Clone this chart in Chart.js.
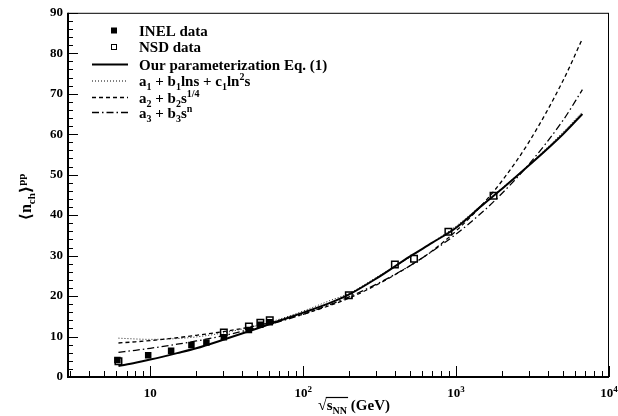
<!DOCTYPE html>
<html>
<head>
<meta charset="utf-8">
<script src="https://cdn.jsdelivr.net/npm/chart.js@4.4.1/dist/chart.umd.min.js"></script>
<style>
  html, body { margin: 0; padding: 0; background: #fff; }
  #wrap { width: 618px; height: 416px; }
</style>
</head>
<body>
<div id="wrap"><canvas id="chart" width="618" height="416"></canvas></div>
<script>
'use strict';

// measured charged multiplicities in pp
var inelEnergy = [6.1, 9.7, 13.7, 18.6, 23.3, 30.3, 44.2, 52.5, 60.5];
var inelMult = [4.2, 5.4, 6.5, 7.9, 8.5, 9.8, 11.6, 12.9, 13.5];
var nsdEnergy = [6.2, 30.3, 44.2, 52.5, 60.5, 199, 398, 531, 891, 1758];
var nsdMult = [3.9, 11.0, 12.5, 13.4, 14.0, 20.2, 27.8, 29.2, 35.9, 44.8];

// fitted curves, sampled along sqrt(s)
var curveEnergy = [6.2, 8, 10, 15, 20, 30, 50, 70, 100, 150, 200, 300, 500, 700, 1000, 1500, 2000, 3000, 5000, 6700];
var fitOurs = [2.7, 3.5, 4.3, 5.9, 7.1, 9.2, 12.0, 13.9, 15.9, 18.3, 20.4, 24.3, 29.8, 33.2, 36.9, 42.6, 46.5, 52.3, 60.0, 65.0];
var fitLnS = [9.6, 9.4, 9.3, 9.5, 9.9, 10.9, 12.7, 14.3, 16.3, 18.9, 20.7, 24.6, 29.6, 33.3, 37.3, 42.8, 46.7, 52.5, 60.5, 65.5];
var fitQuarter = [8.4, 8.7, 9.0, 9.7, 10.3, 11.2, 12.7, 14.0, 15.5, 17.7, 19.5, 22.7, 27.5, 31.2, 36.1, 42.8, 48.5, 58.1, 73.2, 83.6];
var fitPower = [6.1, 6.6, 7.1, 8.1, 8.9, 10.2, 12.2, 13.7, 15.5, 17.9, 19.8, 22.9, 27.5, 31.1, 35.3, 40.9, 45.4, 52.6, 63.4, 71.0];

var xMajor = [10, 100, 1000, 10000];
var yMajorStep = 10;

var SERIF = '"Liberation Serif", "Times New Roman", "DejaVu Serif", serif';

var toPoints = function (xs, ys) {
  return xs.map(function (x, i) { return { x: x, y: ys[i] }; });
};

// text with sub/superscripts: parts = [[text, role]], role '', 'sub' or 'sup'
var richText = function (ctx, parts, x, y, size, measureOnly) {
  var cx = x;
  parts.forEach(function (p) {
    var role = p[1] || '';
    var s = role ? Math.round(size * 0.68) : size;
    var dy = role === 'sub' ? size * 0.28 : role === 'sup' ? -size * 0.4 : 0;
    ctx.font = 'bold ' + s + 'px ' + SERIF;
    if (!measureOnly) ctx.fillText(p[0], cx, y + dy);
    cx += ctx.measureText(p[0]).width;
  });
  return cx - x;
};

var legendRows = [
  { kind: 'filled', y: 30.5, parts: [['INEL data']] },
  { kind: 'open', y: 47, parts: [['NSD data']] },
  { kind: 'line', dash: [], width: 2, y: 64.5, parts: [['Our parameterization Eq. (1)']] },
  { kind: 'line', dash: [1, 2], width: 1, y: 81, parts: [['a'], ['1', 'sub'], [' + b'], ['1', 'sub'], ['lns + c'], ['1', 'sub'], ['ln'], ['2', 'sup'], ['s']] },
  { kind: 'line', dash: [4, 3], width: 1.3, y: 97.5, parts: [['a'], ['2', 'sub'], [' + b'], ['2', 'sub'], ['s'], ['1/4', 'sup']] },
  { kind: 'line', dash: [7, 3, 1.5, 3], width: 1.3, y: 112.5, parts: [['a'], ['3', 'sub'], [' + b'], ['3', 'sub'], ['s'], ['n', 'sup']] }
];

var decorations = {
  id: 'decorations',
  afterDraw: function (chart) {
    var ctx = chart.ctx;
    var a = chart.chartArea;
    var xs = chart.scales.x;
    var ys = chart.scales.y;
    ctx.save();
    ctx.strokeStyle = '#000';
    ctx.fillStyle = '#000';

    // frame
    ctx.lineWidth = 1;
    ctx.strokeRect(a.left + 0.5, a.top + 0.5, a.right - a.left - 1, a.bottom - a.top - 1);
    ctx.lineWidth = 2;
    ctx.beginPath();
    ctx.moveTo(a.left, a.top);
    ctx.lineTo(a.left, a.bottom);
    ctx.lineTo(a.right, a.bottom);
    ctx.stroke();

    // inward ticks
    ctx.lineWidth = 1;
    ctx.beginPath();
    ys.ticks.forEach(function (t) {
      var py = Math.round(ys.getPixelForValue(t.value)) + 0.5;
      var len = t.value % yMajorStep === 0 ? 10 : 5;
      ctx.moveTo(a.left, py);
      ctx.lineTo(a.left + len, py);
    });
    xs.ticks.forEach(function (t) {
      var px = Math.round(xs.getPixelForValue(t.value)) + 0.5;
      var len = xMajor.indexOf(t.value) >= 0 ? 11 : 6;
      ctx.moveTo(px, a.bottom);
      ctx.lineTo(px, a.bottom - len);
    });
    ctx.stroke();

    // x tick labels as powers of ten
    ctx.textBaseline = 'alphabetic';
    ctx.textAlign = 'left';
    xMajor.forEach(function (v) {
      var exp = Math.round(Math.log10(v));
      var parts = exp === 1 ? [['10']] : [['10'], [String(exp), 'sup']];
      var w = richText(ctx, parts, 0, 0, 13, true);
      var px = xs.getPixelForValue(v);
      richText(ctx, parts, px - w / 2, 397, 13);
    });

    // x title with a root sign over s_NN
    var xt = 318;
    ctx.font = 'bold 16px ' + SERIF;
    ctx.fillText('\u221A', xt, 410);
    var rootW = ctx.measureText('\u221A').width;
    var sw = richText(ctx, [['s'], ['NN', 'sub']], xt + rootW, 410, 15);
    ctx.lineWidth = 1.2;
    ctx.beginPath();
    ctx.moveTo(xt + rootW - 1, 397.5);
    ctx.lineTo(xt + rootW + sw + 1, 397.5);
    ctx.stroke();
    richText(ctx, [[' (GeV)']], xt + rootW + sw, 410, 15);

    // y title, rotated
    var yParts = [['\u27E8n'], ['ch', 'sub'], ['\u27E9'], ['pp', 'sup']];
    var yw = richText(ctx, yParts, 0, 0, 16, true);
    ctx.save();
    ctx.translate(31, 197 + yw / 2);
    ctx.rotate(-Math.PI / 2);
    richText(ctx, yParts, 0, 0, 16);
    ctx.restore();

    // legend
    legendRows.forEach(function (row) {
      if (row.kind === 'filled') {
        ctx.fillRect(111, row.y - 3, 6, 6);
      } else if (row.kind === 'open') {
        ctx.lineWidth = 1;
        ctx.strokeRect(111.5, row.y - 2.5, 5, 5);
      } else {
        ctx.lineWidth = row.width;
        ctx.setLineDash(row.dash);
        ctx.beginPath();
        ctx.moveTo(92, row.y);
        ctx.lineTo(128, row.y);
        ctx.stroke();
        ctx.setLineDash([]);
      }
      richText(ctx, row.parts, 139, row.y + 5, 15);
    });
    ctx.restore();
  }
};

var curve = function (label, values, width, dash, color) {
  return {
    label: label,
    data: toPoints(curveEnergy, values),
    showLine: true,
    borderColor: color,
    borderWidth: width,
    borderDash: dash,
    pointRadius: 0,
    cubicInterpolationMode: 'monotone',
    fill: false
  };
};

var ctx = document.getElementById('chart').getContext('2d');
var chart = new Chart(ctx, {
  type: 'scatter',
  plugins: [decorations],
  data: {
    datasets: [
      {
        label: 'INEL data',
        data: toPoints(inelEnergy, inelMult),
        pointStyle: 'rect',
        pointRadius: 4.6,
        backgroundColor: '#000',
        borderColor: '#000',
        borderWidth: 0
      },
      {
        label: 'NSD data',
        data: toPoints(nsdEnergy, nsdMult),
        pointStyle: 'rect',
        pointRadius: 4.6,
        backgroundColor: 'rgba(255,255,255,0)',
        borderColor: '#000',
        borderWidth: 1.5
      },
      curve('Our parameterization Eq. (1)', fitOurs, 2, [], '#000'),
      curve('a1 + b1 lns + c1 ln2 s', fitLnS, 1, [1, 2], '#222'),
      curve('a2 + b2 s^1/4', fitQuarter, 1.3, [4, 3], '#000'),
      curve('a3 + b3 s^n', fitPower, 1.3, [7, 3, 1.5, 3], '#000')
    ]
  },
  options: {
    responsive: false,
    animation: false,
    layout: { padding: { top: 12, right: 9, left: 0, bottom: 0 } },
    plugins: {
      legend: { display: false },
      tooltip: { enabled: false }
    },
    scales: {
      x: {
        type: 'logarithmic',
        min: 2.9,
        max: 10000,
        bounds: 'data',
        afterBuildTicks: function (scale) {
          var ticks = [];
          [1, 10, 100, 1000].forEach(function (d) {
            for (var m = 1; m <= 9; m++) {
              var v = m * d;
              if (v >= 3) ticks.push({ value: v });
            }
          });
          ticks.push({ value: 10000 });
          scale.ticks = ticks;
        },
        afterFit: function (scale) { scale.height = 39; },
        grid: { display: false, drawTicks: false },
        border: { display: false },
        ticks: { display: false }
      },
      y: {
        min: 0,
        max: 90,
        afterFit: function (scale) { scale.width = 68; },
        grid: { display: false, drawTicks: false },
        border: { display: false },
        ticks: {
          stepSize: 2,
          autoSkip: false,
          padding: 5,
          color: '#000',
          font: { family: SERIF, size: 13, weight: 'bold' },
          callback: function (v) { return v % yMajorStep === 0 ? String(v) : ''; }
        }
      }
    }
  }
});
</script>
</body>
</html>
